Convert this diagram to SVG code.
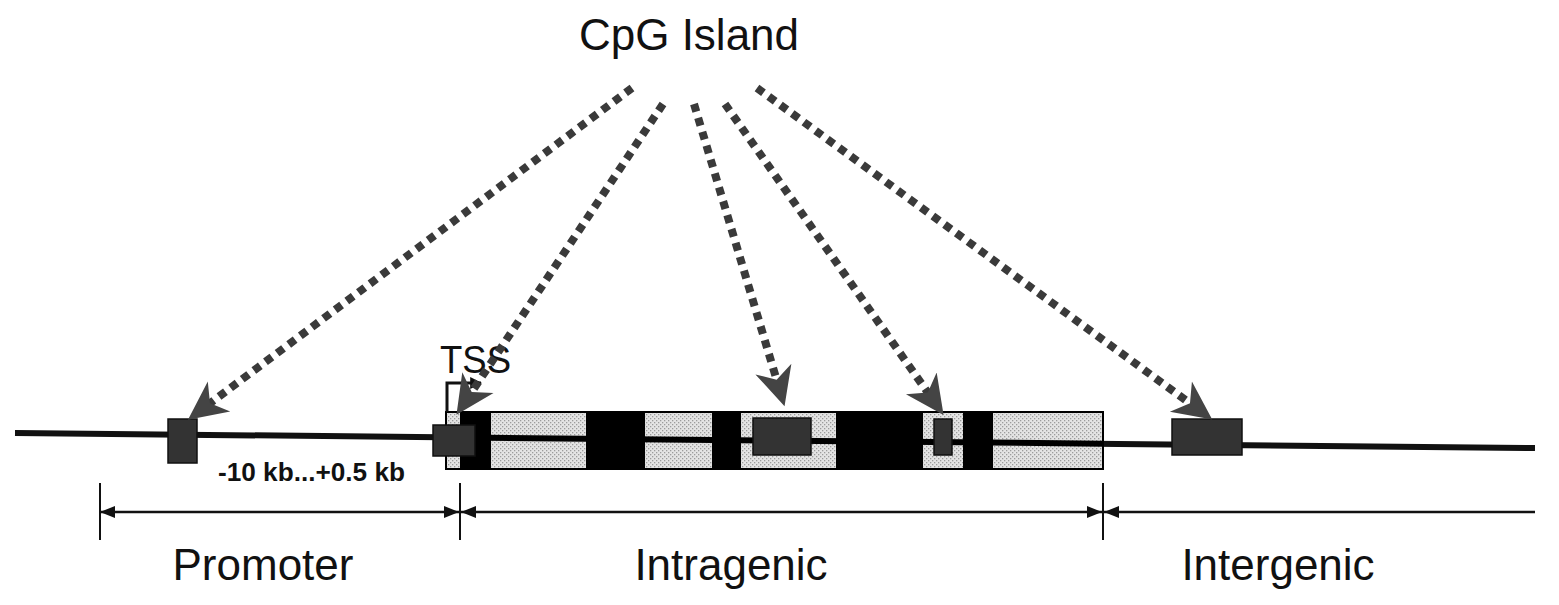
<svg xmlns="http://www.w3.org/2000/svg" width="1559" height="605" viewBox="0 0 1559 605">
<style>
.lbl{font-family:"Liberation Sans",Arial,sans-serif;fill:#111}
.cpg{fill:#333;stroke:#111;stroke-width:1.5}
.blk{fill:#000}
.dot{fill:none;stroke:#3a3a3a;stroke-width:8;stroke-dasharray:8 6.5}
.dim{stroke:#111;stroke-width:2.5;fill:none}
.tick{stroke:#111;stroke-width:2}
</style>
<defs>
<pattern id="stip" width="4" height="4" patternUnits="userSpaceOnUse">
<rect width="4" height="4" fill="#e4e4e4"/>
<rect x="0" y="0" width="1.3" height="1.3" fill="#9c9c9c"/>
<rect x="2" y="2" width="1.3" height="1.3" fill="#9c9c9c"/>
</pattern>
<marker id="stealth" markerUnits="userSpaceOnUse" markerWidth="40" markerHeight="40" viewBox="0 0 32 32" refX="10" refY="16" orient="auto">
<path d="M0,1 L31,16 L0,31 L9,16 Z" fill="#444"/>
</marker>
<marker id="dimhead" markerUnits="userSpaceOnUse" markerWidth="15" markerHeight="12" viewBox="0 0 15 12" refX="15" refY="6" orient="auto-start-reverse">
<path d="M0,0 L15,6 L0,12 Z" fill="#111"/>
</marker>
<marker id="tsshead" markerUnits="userSpaceOnUse" markerWidth="12" markerHeight="12" viewBox="0 0 10 10" refX="9" refY="5" orient="auto">
<path d="M0,0 L10,5 L0,10 Z" fill="#111"/>
</marker>
</defs>

<g id="cpg-island-label">
<text class="lbl" x="689" y="50" font-size="44" text-anchor="middle">CpG Island</text>
</g>

<g id="genome-line">
<line x1="15" y1="433" x2="1535" y2="448" stroke="#111" stroke-width="6"/>
</g>

<g id="gene">
<rect x="446" y="412" width="657" height="57" fill="url(#stip)"/>
<rect class="blk" x="460" y="412" width="31" height="57"/>
<rect class="blk" x="586" y="412" width="59" height="57"/>
<rect class="blk" x="712" y="412" width="29" height="57"/>
<rect class="blk" x="836" y="412" width="87" height="57"/>
<rect class="blk" x="963" y="412" width="30" height="57"/>
<line x1="446" y1="437.3" x2="1103" y2="443.7" stroke="#000" stroke-width="6"/>
<rect x="446" y="412" width="657" height="57" fill="none" stroke="#000" stroke-width="2"/>
</g>

<g id="tss">
<path d="M447,412 V383 H481" fill="none" stroke="#111" stroke-width="3" marker-end="url(#tsshead)"/>
<text class="lbl" x="440" y="373" font-size="38" textLength="71" lengthAdjust="spacingAndGlyphs">TSS</text>
</g>

<g id="cpg-promoter"><rect class="cpg" x="168" y="419" width="29" height="44"/></g>
<g id="cpg-tss"><rect class="cpg" x="433" y="425" width="42" height="31"/></g>
<g id="cpg-exon"><rect class="cpg" x="753" y="418" width="58" height="37"/></g>
<g id="cpg-small"><rect class="cpg" x="934" y="419" width="18" height="36"/></g>
<g id="cpg-intergenic"><rect class="cpg" x="1172" y="419" width="70" height="36"/></g>

<g id="range-label">
<text x="218" y="481" font-family="'Liberation Sans',Arial,sans-serif" font-weight="bold" font-size="25" textLength="187" lengthAdjust="spacingAndGlyphs" fill="#111">-10 kb...+0.5 kb</text>
</g>

<g id="connectors">
<line class="dot" x1="632" y1="88" x2="209" y2="404" marker-end="url(#stealth)"/>
<line class="dot" x1="663" y1="104" x2="471" y2="393" marker-end="url(#stealth)"/>
<line class="dot" x1="694" y1="104" x2="777" y2="381" marker-end="url(#stealth)"/>
<line class="dot" x1="725" y1="104" x2="928.5" y2="393.6" marker-end="url(#stealth)"/>
<line class="dot" x1="757" y1="88" x2="1191" y2="404" marker-end="url(#stealth)"/>

<line class="tick" x1="100" y1="483" x2="100" y2="540"/>
<line class="tick" x1="460" y1="483" x2="460" y2="540"/>
<line class="tick" x1="1103" y1="483" x2="1103" y2="540"/>
<line class="dim" x1="100" y1="512" x2="459" y2="512" marker-start="url(#dimhead)" marker-end="url(#dimhead)"/>
<line class="dim" x1="461" y1="512" x2="1102" y2="512" marker-start="url(#dimhead)" marker-end="url(#dimhead)"/>
<line class="dim" x1="1104" y1="512" x2="1535" y2="512" marker-start="url(#dimhead)"/>
</g>

<g id="region-labels">
<text class="lbl" x="263" y="580" font-size="44" text-anchor="middle">Promoter</text>
<text class="lbl" x="731" y="580" font-size="44" text-anchor="middle">Intragenic</text>
<text class="lbl" x="1278" y="580" font-size="44" text-anchor="middle">Intergenic</text>
</g>
</svg>
